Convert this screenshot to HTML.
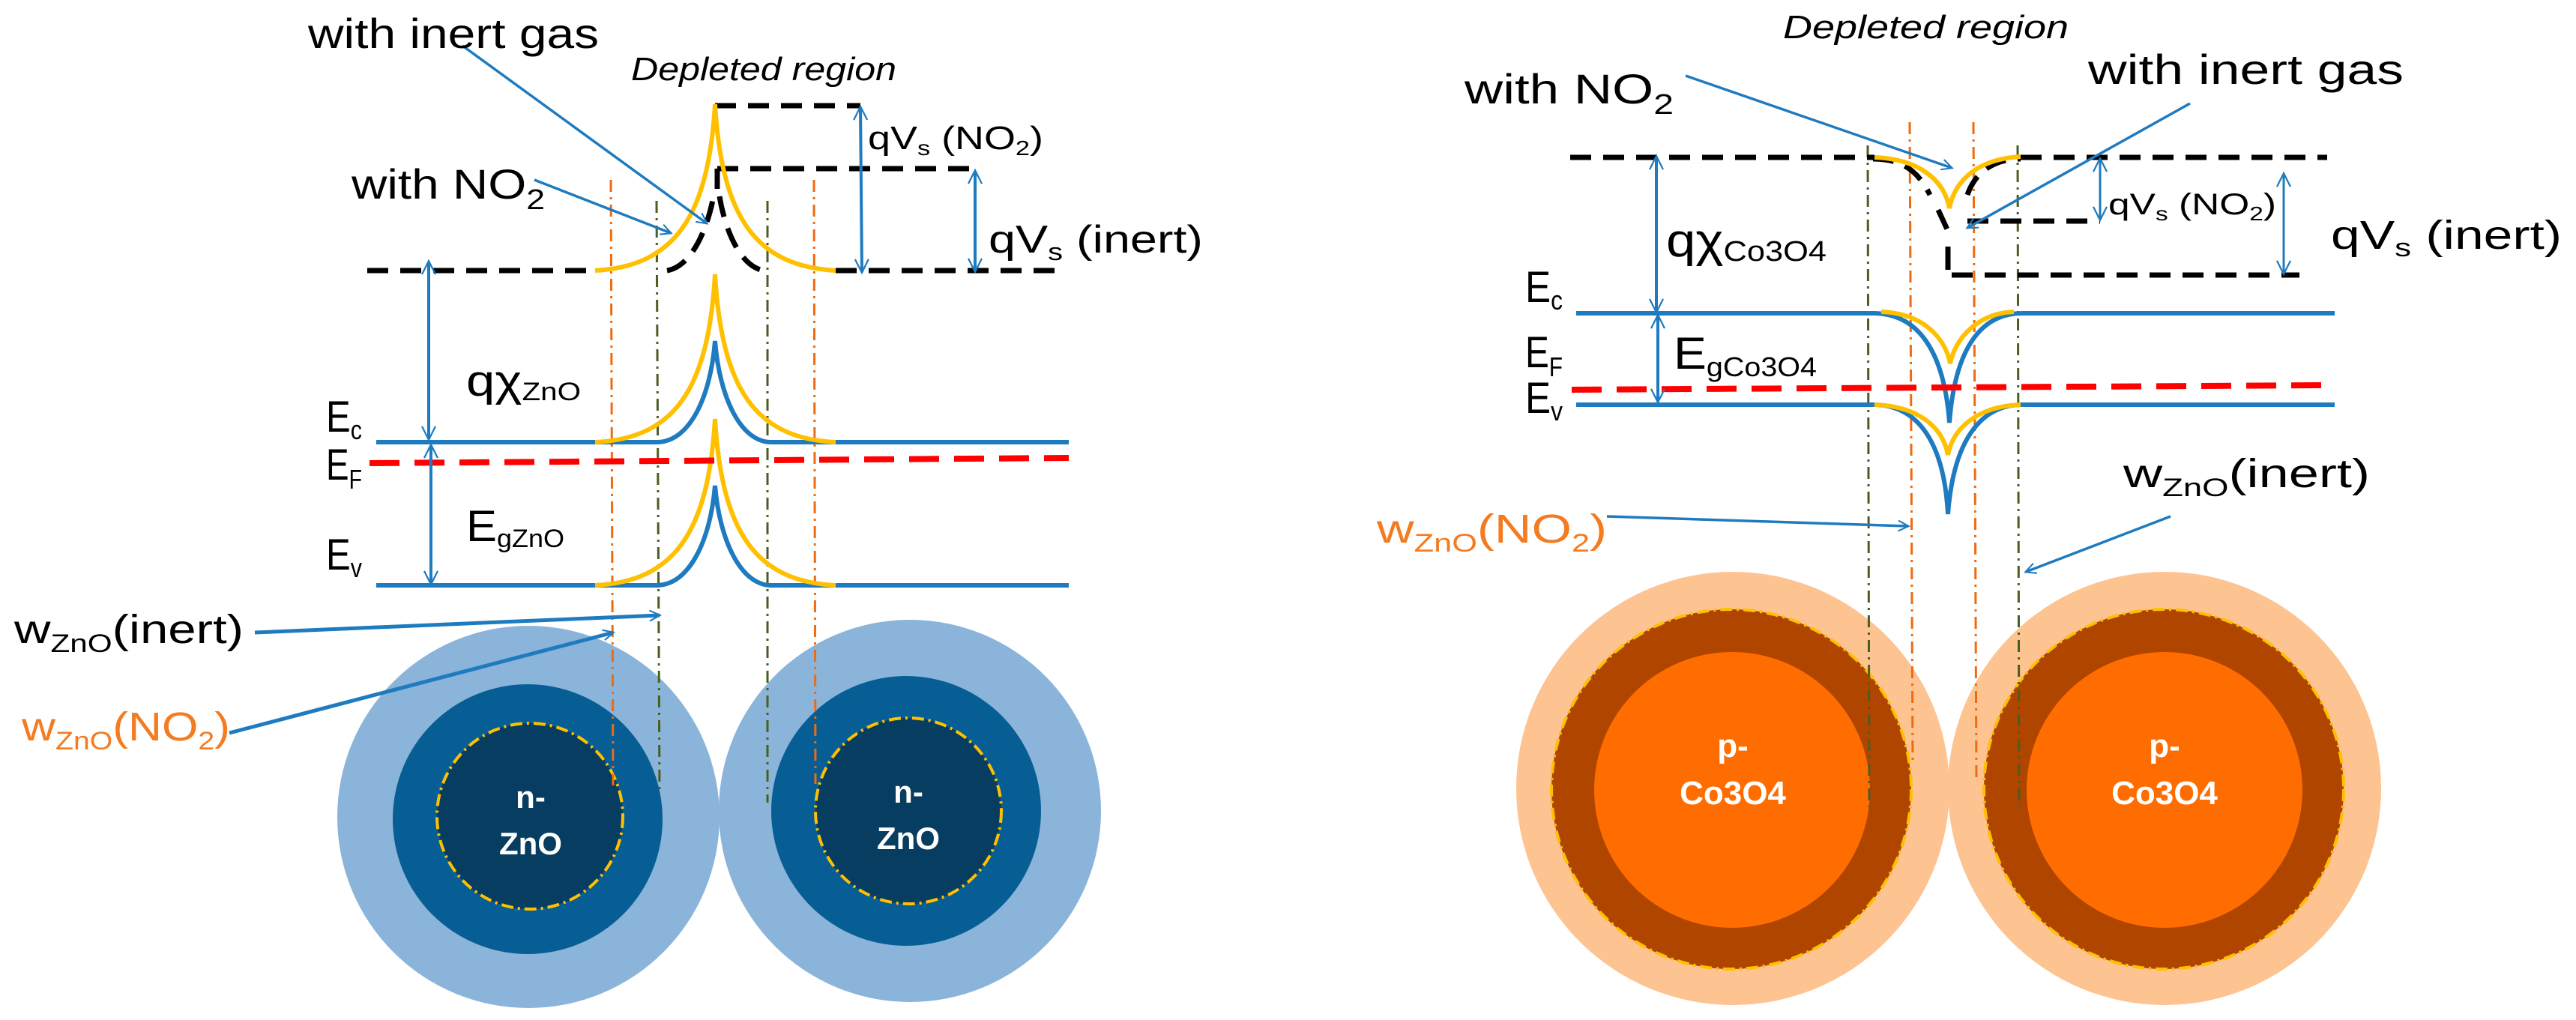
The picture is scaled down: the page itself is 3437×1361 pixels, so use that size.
<!DOCTYPE html>
<html><head><meta charset="utf-8"><style>
html,body{margin:0;padding:0;background:#fff;}
svg{display:block;}
text{font-family:"Liberation Sans",sans-serif;}
</style></head><body>
<svg width="3437" height="1361" viewBox="0 0 3437 1361" xmlns="http://www.w3.org/2000/svg">
<defs>
<marker id="ah" viewBox="0 0 20 20" refX="19" refY="10" markerWidth="14" markerHeight="14" markerUnits="userSpaceOnUse" orient="auto-start-reverse" overflow="visible">
<path d="M0,0 L20,10 L0,20" fill="none" stroke="#1f7bbf" stroke-width="3"/>
</marker>
<marker id="ah2" viewBox="0 0 20 20" refX="19" refY="10" markerWidth="18" markerHeight="18" markerUnits="userSpaceOnUse" orient="auto-start-reverse" overflow="visible">
<path d="M0,0 L20,10 L0,20" fill="none" stroke="#1f7bbf" stroke-width="2.5"/>
</marker>
</defs>

<circle cx="705" cy="1090" r="255" fill="#8ab4d9"/>
<circle cx="1214" cy="1082" r="255" fill="#8ab4d9"/>
<circle cx="704" cy="1093" r="180" fill="#075e94"/>
<circle cx="1209" cy="1082" r="180" fill="#075e94"/>
<circle cx="707" cy="1089" r="124" fill="#063d60" stroke="#ffc000" stroke-width="4" stroke-dasharray="16,6,3,6"/>
<circle cx="1212" cy="1082" r="124" fill="#063d60" stroke="#ffc000" stroke-width="4" stroke-dasharray="16,6,3,6"/>
<text x="708" y="1078" fill="#fff" font-size="42" font-weight="bold" text-anchor="middle">n-</text>
<text x="708" y="1140" fill="#fff" font-size="42" font-weight="bold" text-anchor="middle">ZnO</text>
<text x="1212" y="1071" fill="#fff" font-size="42" font-weight="bold" text-anchor="middle">n-</text>
<text x="1212" y="1133" fill="#fff" font-size="42" font-weight="bold" text-anchor="middle">ZnO</text>

<g fill="none" stroke-width="3" stroke-dasharray="16,7,3,7">
<line x1="815" y1="240" x2="818" y2="1055" stroke="#f06a10"/>
<line x1="1086" y1="240" x2="1088" y2="1046" stroke="#f06a10"/>
<line x1="876" y1="268" x2="880" y2="1058" stroke="#4a5e20"/>
<line x1="1024" y1="268" x2="1024" y2="1071" stroke="#4a5e20"/>
</g>

<g fill="none" stroke="#000" stroke-width="7" stroke-dasharray="28,16">
<line x1="490" y1="361" x2="794" y2="361"/>
<line x1="1115" y1="361" x2="1411" y2="361"/>
<line x1="954" y1="141" x2="1148" y2="141"/>
<line x1="957" y1="225" x2="1306" y2="225"/>
<line x1="957" y1="225" x2="957" y2="252"/>
<path d="M890,361 C925,355 945,300 952,262"/>
<path d="M960,262 C966,300 985,355 1019,361"/>
</g>

<g fill="none" stroke="#1f7bbf" stroke-width="6">
<path d="M502,590 L876,590 C920,590 948,530 954,455 C960,530 988,590 1029,590 L1426,590"/>
<path d="M502,781 L876,781 C920,781 948,720 954,648 C960,720 988,781 1029,781 L1426,781"/>
</g>
<g fill="none" stroke="#ffc000" stroke-width="6">
<path d="M794,361 C900,355 945,290 954,139 C963,290 1008,355 1115,361"/>
<path d="M794,590 C900,585 945,520 954,366 C963,520 1008,585 1115,590"/>
<path d="M794,781 C900,776 945,710 954,559 C963,710 1008,776 1115,781"/>
</g>
<line x1="493" y1="618" x2="1426" y2="611" stroke="#ff0000" stroke-width="8" stroke-dasharray="40,20"/>

<g fill="none" stroke="#1f7bbf" stroke-width="4">
<line x1="572" y1="349" x2="572" y2="586" marker-start="url(#ah2)" marker-end="url(#ah2)"/>
<line x1="575" y1="594" x2="575" y2="779" marker-start="url(#ah2)" marker-end="url(#ah2)"/>
<line x1="1148" y1="143" x2="1150" y2="363" marker-start="url(#ah2)" marker-end="url(#ah2)"/>
<line x1="1301" y1="228" x2="1301" y2="362" marker-start="url(#ah2)" marker-end="url(#ah2)"/>
<line x1="713" y1="240" x2="895" y2="311" marker-end="url(#ah)" stroke-width="3.5"/>
<line x1="617" y1="61" x2="943" y2="298" marker-end="url(#ah)" stroke-width="3.5"/>
<line x1="340" y1="844" x2="880" y2="821" marker-end="url(#ah)" stroke-width="5"/>
<line x1="306" y1="978" x2="818" y2="844" marker-end="url(#ah)" stroke-width="5"/>
</g>

<text x="411" y="64" font-size="56" textLength="388" lengthAdjust="spacingAndGlyphs">with inert gas</text>
<text x="842" y="107" font-size="44" font-style="italic" textLength="354" lengthAdjust="spacingAndGlyphs">Depleted region</text>
<text x="469" y="265" font-size="56" textLength="258" lengthAdjust="spacingAndGlyphs">with NO<tspan font-size="38" dy="14">2</tspan></text>
<text x="1158" y="199" font-size="44" textLength="234" lengthAdjust="spacingAndGlyphs">qV<tspan font-size="28" dy="8">s</tspan><tspan dy="-8"> (NO</tspan><tspan font-size="28" dy="8">2</tspan><tspan dy="-8">)</tspan></text>
<text x="1319" y="337" font-size="52" textLength="286" lengthAdjust="spacingAndGlyphs">qV<tspan font-size="32" dy="10">s</tspan><tspan dy="-10"> (inert)</tspan></text>
<text x="435" y="576" font-size="58" textLength="48" lengthAdjust="spacingAndGlyphs">E<tspan font-size="36" dy="10">c</tspan></text>
<text x="435" y="640" font-size="58" textLength="48" lengthAdjust="spacingAndGlyphs">E<tspan font-size="36" dy="12">F</tspan></text>
<text x="435" y="760" font-size="58" textLength="48" lengthAdjust="spacingAndGlyphs">E<tspan font-size="36" dy="10">v</tspan></text>
<text x="622" y="528" font-size="58" textLength="153" lengthAdjust="spacingAndGlyphs">qχ<tspan font-size="34" dy="6">ZnO</tspan></text>
<text x="622" y="722" font-size="58" textLength="131" lengthAdjust="spacingAndGlyphs">E<tspan font-size="34" dy="8">gZnO</tspan></text>
<text x="19" y="858" font-size="54" textLength="306" lengthAdjust="spacingAndGlyphs">w<tspan font-size="34" dy="12">ZnO</tspan><tspan dy="-12">(inert)</tspan></text>
<text x="29" y="988" font-size="54" fill="#f47b20" textLength="278" lengthAdjust="spacingAndGlyphs">w<tspan font-size="34" dy="12">ZnO</tspan><tspan dy="-12">(NO</tspan><tspan font-size="34" dy="12">2</tspan><tspan dy="-12">)</tspan></text>

<circle cx="2312" cy="1052" r="289" fill="#fdc391"/>
<circle cx="2888" cy="1052" r="289" fill="#fdc391"/>
<circle cx="2310" cy="1053" r="240" fill="#b04500" stroke="#ffc000" stroke-width="4" stroke-dasharray="16,6,3,6"/>
<circle cx="2887" cy="1053" r="240" fill="#b04500" stroke="#ffc000" stroke-width="4" stroke-dasharray="16,6,3,6"/>
<circle cx="2311" cy="1054" r="184" fill="#ff6d00"/>
<circle cx="2888" cy="1054" r="184" fill="#ff6d00"/>
<text x="2312" y="1010" fill="#fff" font-size="44" font-weight="bold" text-anchor="middle">p-</text>
<text x="2312" y="1073" fill="#fff" font-size="44" font-weight="bold" text-anchor="middle">Co3O4</text>
<text x="2888" y="1010" fill="#fff" font-size="44" font-weight="bold" text-anchor="middle">p-</text>
<text x="2888" y="1073" fill="#fff" font-size="44" font-weight="bold" text-anchor="middle">Co3O4</text>

<g fill="none" stroke-width="3" stroke-dasharray="16,7,3,7">
<line x1="2492" y1="194" x2="2494" y2="1077" stroke="#4a5e20"/>
<line x1="2548" y1="163" x2="2552" y2="1019" stroke="#f06a10"/>
<line x1="2633" y1="163" x2="2637" y2="1040" stroke="#f06a10"/>
<line x1="2692" y1="194" x2="2694" y2="1077" stroke="#4a5e20"/>
</g>

<g fill="none" stroke="#000" stroke-width="7" stroke-dasharray="28,16">
<line x1="2095" y1="210" x2="2501" y2="210"/>
<line x1="2696" y1="210" x2="3105" y2="210"/>
<path d="M2499,212 C2540,212 2560,230 2575,260"/>
<path d="M2625,260 C2635,230 2660,212 2696,212"/>
<line x1="2586" y1="280" x2="2598" y2="306"/>
<line x1="2625" y1="295" x2="2802" y2="295"/>
<line x1="2599" y1="329" x2="2599" y2="360" stroke-dasharray="none"/>
<line x1="2604" y1="367" x2="3068" y2="367"/>
</g>

<g fill="none" stroke="#1f7bbf" stroke-width="6">
<path d="M2103,418 L2499,418 C2560,418 2594,470 2601,564 C2608,470 2640,418 2698,418 L3115,418"/>
<path d="M2103,540 L2499,540 C2560,540 2594,592 2599,686 C2606,592 2640,540 2698,540 L3115,540"/>
</g>
<g fill="none" stroke="#ffc000" stroke-width="6">
<path d="M2501,210 C2560,212 2594,240 2601,278 C2608,240 2640,212 2696,209"/>
<path d="M2510,416 C2565,418 2595,450 2602,485 C2609,450 2640,418 2687,416"/>
<path d="M2501,540 C2560,542 2592,570 2599,607 C2606,570 2640,542 2696,540"/>
</g>
<line x1="2097" y1="520" x2="3100" y2="514" stroke="#ff0000" stroke-width="8" stroke-dasharray="40,20"/>

<g fill="none" stroke="#1f7bbf" stroke-width="4">
<line x1="2210" y1="209" x2="2210" y2="416" marker-start="url(#ah2)" marker-end="url(#ah2)"/>
<line x1="2212" y1="421" x2="2212" y2="536" marker-start="url(#ah2)" marker-end="url(#ah2)"/>
<line x1="2802" y1="212" x2="2802" y2="293" marker-start="url(#ah2)" marker-end="url(#ah2)" stroke-width="3"/>
<line x1="3047" y1="232" x2="3047" y2="365" marker-start="url(#ah2)" marker-end="url(#ah2)" stroke-width="3"/>
<line x1="2249" y1="101" x2="2604" y2="224" marker-end="url(#ah)" stroke-width="3.5"/>
<line x1="2922" y1="138" x2="2625" y2="304" marker-end="url(#ah)" stroke-width="3.5"/>
<line x1="2144" y1="689" x2="2546" y2="702" marker-end="url(#ah)" stroke-width="3.5"/>
<line x1="2896" y1="689" x2="2703" y2="763" marker-end="url(#ah)" stroke-width="3.5"/>
</g>

<text x="2379" y="51" font-size="44" font-style="italic" textLength="381" lengthAdjust="spacingAndGlyphs">Depleted region</text>
<text x="1954" y="138" font-size="56" textLength="279" lengthAdjust="spacingAndGlyphs">with NO<tspan font-size="38" dy="14">2</tspan></text>
<text x="2786" y="112" font-size="56" textLength="421" lengthAdjust="spacingAndGlyphs">with inert gas</text>
<text x="2813" y="286" font-size="40" textLength="224" lengthAdjust="spacingAndGlyphs">qV<tspan font-size="26" dy="8">s</tspan><tspan dy="-8"> (NO</tspan><tspan font-size="26" dy="8">2</tspan><tspan dy="-8">)</tspan></text>
<text x="3110" y="332" font-size="54" textLength="308" lengthAdjust="spacingAndGlyphs">qV<tspan font-size="34" dy="10">s</tspan><tspan dy="-10"> (inert)</tspan></text>
<text x="2035" y="403" font-size="58" textLength="50" lengthAdjust="spacingAndGlyphs">E<tspan font-size="36" dy="10">c</tspan></text>
<text x="2035" y="490" font-size="58" textLength="50" lengthAdjust="spacingAndGlyphs">E<tspan font-size="36" dy="12">F</tspan></text>
<text x="2035" y="551" font-size="58" textLength="50" lengthAdjust="spacingAndGlyphs">E<tspan font-size="36" dy="10">v</tspan></text>
<text x="2223" y="342" font-size="62" textLength="214" lengthAdjust="spacingAndGlyphs">qχ<tspan font-size="38" dy="6">Co3O4</tspan></text>
<text x="2233" y="492" font-size="60" textLength="191" lengthAdjust="spacingAndGlyphs">E<tspan font-size="36" dy="10">gCo3O4</tspan></text>
<text x="2833" y="650" font-size="54" textLength="329" lengthAdjust="spacingAndGlyphs">w<tspan font-size="34" dy="12">ZnO</tspan><tspan dy="-12">(inert)</tspan></text>
<text x="1837" y="724" font-size="54" fill="#f47b20" textLength="307" lengthAdjust="spacingAndGlyphs">w<tspan font-size="34" dy="12">ZnO</tspan><tspan dy="-12">(NO</tspan><tspan font-size="34" dy="12">2</tspan><tspan dy="-12">)</tspan></text>
</svg>
</body></html>
